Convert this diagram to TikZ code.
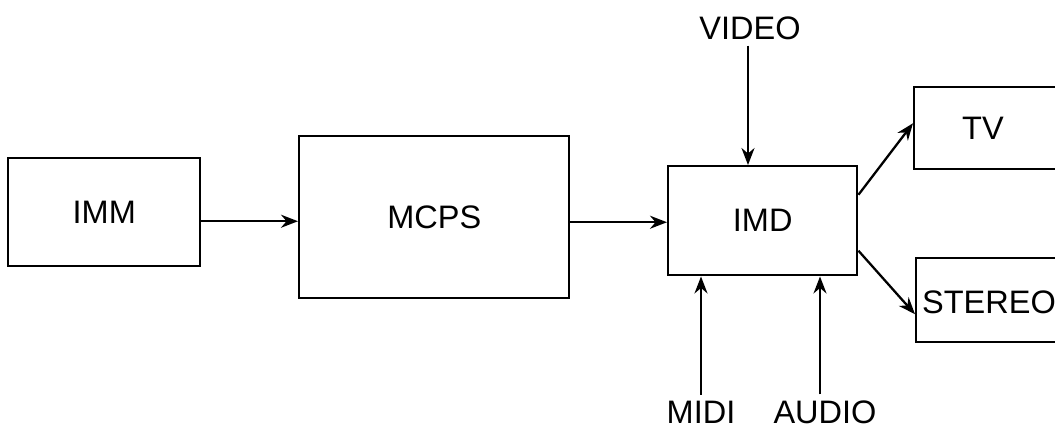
\documentclass[tikz,border=0pt]{standalone}
\usepackage{fontspec}
\setmainfont{Liberation Sans}
\usepackage{tikz}
\usetikzlibrary{arrows.meta}

\begin{document}
\begin{tikzpicture}[x=0.2mm,y=-0.2mm]
    \tikzstyle{every node}=[font=\fontsize{18.5}{21}\selectfont]
    \tikzstyle{block}=[draw, rectangle, line width=1.4pt, anchor=north west, inner sep=0pt]
    \tikzstyle{arr}=[-{Stealth[length=3.4mm,width=2.6mm]}, line width=1.3pt]
    \useasboundingbox (0,0) rectangle (1055,433);
    \clip (0,0) rectangle (1055,433);
    % blocks
    \node[block, minimum width=38.4mm, minimum height=21.6mm] (imm) at (7,157) {IMM};
    \node[block, minimum width=54mm, minimum height=32.4mm] (mcps) at (298,135) {MCPS};
    \node[block, minimum width=37.8mm, minimum height=21.8mm] (imd) at (667,165) {IMD};
    \node[block, minimum width=40mm, minimum height=16.4mm] (tv) at (913,86) {};
    \node (tvtext) at (983,128) {TV};
    \node[block, minimum width=40mm, minimum height=16.8mm] (stereo) at (915,257) {};
    \node (stereotext) at (989,302) {STEREO};
    % inputs
    \node (video) at (750,28) {VIDEO};
    \node (midi) at (701,412) {MIDI};
    \node (audio) at (825,412) {AUDIO};
    % connectors
    \draw[arr] ([yshift=-1.8mm]imm.east) -- ([yshift=-1.8mm]imm.east -| mcps.west);
    \draw[arr] ([yshift=-1mm]mcps.east) -- ([yshift=-1mm]mcps.east -| imd.west);
    \draw[arr] ([xshift=-0.4mm]video.south) -- ([xshift=-0.4mm]video.south |- imd.north);
    \draw[arr] (midi.north) -- (midi.north |- imd.south);
    \draw[arr] ([xshift=-1mm]audio.north) -- ([xshift=-1mm]audio.north |- imd.south);
    \draw[arr] ([yshift=5.2mm]imd.east) -- ([yshift=1mm]tv.west);
    \draw[arr] ([yshift=-6mm]imd.east) -- ([yshift=-2.8mm]stereo.west);
\end{tikzpicture}
\end{document}
